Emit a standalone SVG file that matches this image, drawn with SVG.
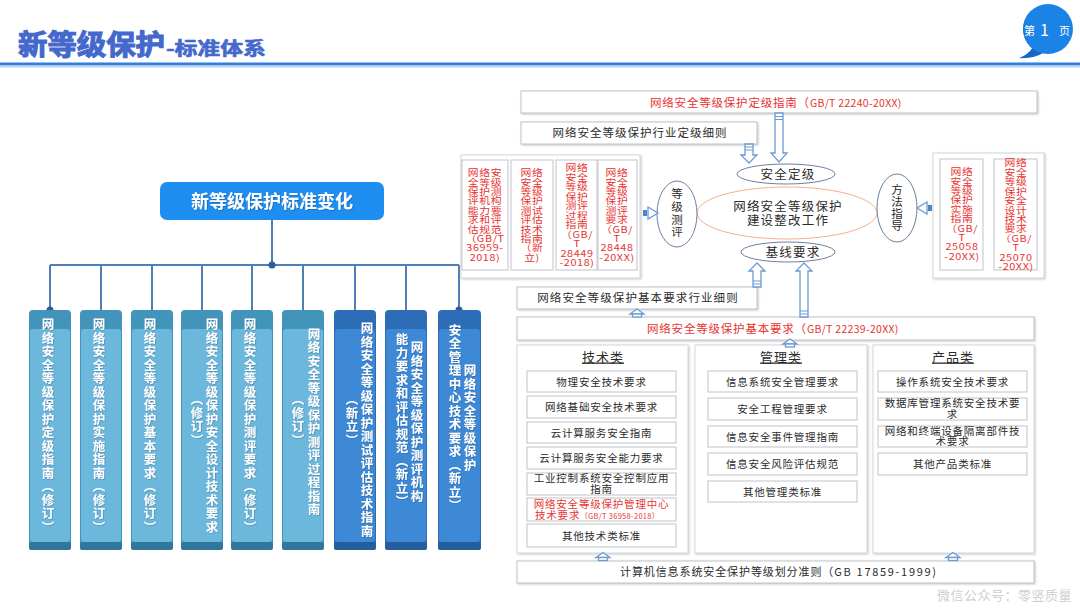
<svg xmlns="http://www.w3.org/2000/svg" width="1080" height="608" viewBox="0 0 1080 608">
<defs>
<style>
text{font-family:"Noto Sans CJK SC","Noto Sans",sans-serif}
.it{font-size:10.5px;letter-spacing:0.8px;fill:#2b2b2b;text-anchor:middle}
.rs{font-size:9.2px;letter-spacing:0.5px;fill:#e8332f;text-anchor:middle}
.hd{font-size:13px;letter-spacing:1px;fill:#2b2b2b;text-anchor:middle;text-decoration:underline}
.box{fill:#fff;stroke:#bfc3c9;stroke-width:1}
.panel{fill:#fff;stroke:#d3d7dd;stroke-width:1}
.arr{fill:#fff;stroke:#6b9bd2;stroke-width:1.3}
.stripe{stroke:#6b9bd2;stroke-width:1.2}
.ell{fill:#fff;stroke:#5d6f98;stroke-width:0.9}
.et{font-size:12.5px;letter-spacing:1.2px;fill:#2b2b2b;text-anchor:middle}
.ev{font-size:11.5px;fill:#2b2b2b;text-anchor:middle}
.vt{writing-mode:vertical-rl;font-size:12.5px;letter-spacing:1px;font-weight:bold;fill:#fff;text-anchor:middle}
.conn{stroke:#4f7fb5;stroke-width:2;fill:none}
.hL{fill:#4294bb}.bL{fill:#6cb8dc}.sL{fill:#31779c}
.hD{fill:#2c6db6}.bD{fill:#3d89d5}.sD{fill:#245e9c}
</style>
<filter id="sh" x="-10%" y="-10%" width="120%" height="120%">
<feDropShadow dx="1" dy="1" stdDeviation="0.8" flood-color="#888" flood-opacity="0.45"/>
</filter>
<filter id="tsh" x="-10%" y="-20%" width="120%" height="140%">
<feDropShadow dx="0.8" dy="0.8" stdDeviation="0.6" flood-color="#0b4f96" flood-opacity="0.6"/>
</filter>
<filter id="vsh" x="-30%" y="-5%" width="160%" height="110%">
<feDropShadow dx="0.6" dy="0.6" stdDeviation="0.5" flood-color="#1d4d78" flood-opacity="0.5"/>
</filter>
<g id="up">
<path class="arr" d="M-7,1 L0,-4 L7,1 Z"/>
<rect class="arr" x="-4.5" y="1" width="9" height="3"/>
</g>
</defs>
<rect width="1080" height="608" fill="#fff"/>

<!-- header -->
<g id="title">
<text x="18" y="55" font-size="28" font-weight="bold" fill="#4468cc" stroke="#4468cc" stroke-width="1.1" textLength="147" lengthAdjust="spacingAndGlyphs">新等级保护</text>
<text x="166" y="55" font-size="18" font-weight="bold" fill="#4468cc" stroke="#4468cc" stroke-width="0.6" textLength="100" lengthAdjust="spacingAndGlyphs">-标准体系</text>
<rect x="0" y="62.5" width="1080" height="3" fill="#2f7fdc"/>
<rect x="0" y="65.5" width="1080" height="2" fill="#b5d4f4"/>
</g>
<g id="page">
<path d="M1033,47 Q1028,55 1019,58 Q1034,59 1043,53 Z" fill="#1668c4"/>
<circle cx="1048" cy="29" r="25" fill="#1b82e6"/>
<path d="M1030,12 A25,25 0 0 0 1034,50 A27,27 0 0 1 1030,12 Z" fill="#0f66c2" opacity="0.6"/>
<text x="1024" y="35" font-size="11" fill="#fff">第</text>
<text x="1040" y="36" font-size="16" fill="#fff">1</text>
<text x="1059" y="35" font-size="11" fill="#fff">页</text>
</g>

<!-- left tree -->
<g id="connectors-tree">
<path class="conn" d="M272,220 V265 M50,265 H459 M50,265 V310 M101,265 V310 M152,265 V310 M202,265 V310 M252,265 V310 M303,265 V310 M355,265 V310 M406,265 V310 M459,265 V310"/>
<circle cx="272" cy="265" r="3.5" fill="#2d5f96"/>
<circle cx="50" cy="310" r="3.5" fill="#2d5f96"/>
<circle cx="459" cy="310" r="3.5" fill="#2d5f96"/>
</g>
<g id="root">
<rect x="160" y="182" width="224" height="38" rx="7" fill="#1e8ff0"/>
<text x="272" y="207.5" font-size="18" font-weight="bold" fill="#fff" text-anchor="middle" filter="url(#tsh)">新等级保护标准变化</text>
</g>

<g id="c1"><rect class="hL" x="29" y="310" width="42" height="240" rx="4"/><rect class="bL" x="30" y="329" width="40" height="213" rx="3"/><rect class="sL" x="29" y="542" width="42" height="8" rx="2"/>
<text class="vt" filter="url(#vsh)" x="48" y="426">网络安全等级保护定级指南（修订）</text></g>
<g id="c2"><rect class="hL" x="80" y="310" width="42" height="240" rx="4"/><rect class="bL" x="81" y="329" width="40" height="213" rx="3"/><rect class="sL" x="80" y="542" width="42" height="8" rx="2"/>
<text class="vt" filter="url(#vsh)" x="99" y="426">网络安全等级保护实施指南（修订）</text></g>
<g id="c3"><rect class="hL" x="131" y="310" width="42" height="240" rx="4"/><rect class="bL" x="132" y="329" width="40" height="213" rx="3"/><rect class="sL" x="131" y="542" width="42" height="8" rx="2"/>
<text class="vt" filter="url(#vsh)" x="150" y="426">网络安全等级保护基本要求（修订）</text></g>
<g id="c4"><rect class="hL" x="181" y="310" width="42" height="240" rx="4"/><rect class="bL" x="182" y="329" width="40" height="213" rx="3"/><rect class="sL" x="181" y="542" width="42" height="8" rx="2"/>
<text class="vt" filter="url(#vsh)" x="212" y="426">网络安全等级保护安全设计技术要求</text>
<text class="vt" filter="url(#vsh)" x="197" y="420">（修订）</text></g>
<g id="c5"><rect class="hL" x="231" y="310" width="42" height="240" rx="4"/><rect class="bL" x="232" y="329" width="40" height="213" rx="3"/><rect class="sL" x="231" y="542" width="42" height="8" rx="2"/>
<text class="vt" filter="url(#vsh)" x="250" y="426">网络安全等级保护测评要求（修订）</text></g>
<g id="c6"><rect class="hL" x="282" y="310" width="42" height="240" rx="4"/><rect class="bL" x="283" y="329" width="40" height="213" rx="3"/><rect class="sL" x="282" y="542" width="42" height="8" rx="2"/>
<text class="vt" filter="url(#vsh)" x="314" y="422">网络安全等级保护测评过程指南</text>
<text class="vt" filter="url(#vsh)" x="298" y="420">（修订）</text></g>
<g id="c7"><rect class="hD" x="334" y="310" width="42" height="240" rx="4"/><rect class="bD" x="335" y="329" width="40" height="213" rx="3"/><rect class="sD" x="334" y="542" width="42" height="8" rx="2"/>
<text class="vt" filter="url(#vsh)" x="367" y="430">网络安全等级保护测试评估技术指南</text>
<text class="vt" filter="url(#vsh)" x="352" y="420">（新立）</text></g>
<g id="c8"><rect class="hD" x="385" y="310" width="42" height="240" rx="4"/><rect class="bD" x="386" y="329" width="40" height="213" rx="3"/><rect class="sD" x="385" y="542" width="42" height="8" rx="2"/>
<text class="vt" filter="url(#vsh)" x="417" y="422">网络安全等级保护测评机构</text>
<text class="vt" filter="url(#vsh)" x="402" y="421">能力要求和评估规范（新立）</text></g>
<g id="c9"><rect class="hD" x="438" y="310" width="43" height="240" rx="4"/><rect class="bD" x="439" y="329" width="41" height="213" rx="3"/><rect class="sD" x="438" y="542" width="43" height="8" rx="2"/>
<text class="vt" filter="url(#vsh)" x="470" y="418">网络安全等级保护</text>
<text class="vt" filter="url(#vsh)" x="455" y="418">安全管理中心技术要求（新立）</text></g>

<!-- right side -->
<g id="n-dingji-zhinan">
<rect class="box" x="521" y="91" width="516" height="22" filter="url(#sh)"/>
<text x="650" y="107" font-size="11.5" letter-spacing="0.8" fill="#e8332f">网络安全等级保护定级指南（<tspan font-size="10.5" letter-spacing="0.3">GB/T 22240-20XX)</tspan></text>
</g>
<g id="n-hangye-dingji">
<rect class="box" x="521" y="122" width="236" height="22" filter="url(#sh)"/>
<text class="it" x="640" y="137" style="font-size:11.5px;letter-spacing:1px">网络安全等级保护行业定级细则</text>
</g>

<g id="n-ceping-group">
<rect class="panel" x="461" y="155" width="179" height="123" filter="url(#sh)"/>
<rect class="box" x="462" y="160" width="46" height="110"/>
<rect class="box" x="511" y="160" width="42" height="110"/>
<rect class="box" x="556" y="160" width="41" height="110"/>
<rect class="box" x="598" y="160" width="39" height="110"/>
<text class="rs" transform="translate(485,0) scale(1.18,1) translate(-485,0)"><tspan x="485" y="176.3">网络安</tspan><tspan x="485" dy="9.4">全等级</tspan><tspan x="485" dy="9.4">保护测</tspan><tspan x="485" dy="9.4">评机构</tspan><tspan x="485" dy="9.4">能力要</tspan><tspan x="485" dy="9.4">求和评</tspan><tspan x="485" dy="9.4">估规范</tspan><tspan x="485" dy="9.4">（GB/T</tspan><tspan x="485" dy="9.4">36959-</tspan><tspan x="485" dy="9.4">2018)</tspan></text>
<text class="rs" transform="translate(532,0) scale(1.18,1) translate(-532,0)"><tspan x="532" y="176.3">网络</tspan><tspan x="532" dy="9.4">安全</tspan><tspan x="532" dy="9.4">等级</tspan><tspan x="532" dy="9.4">保护</tspan><tspan x="532" dy="9.4">测试</tspan><tspan x="532" dy="9.4">评估</tspan><tspan x="532" dy="9.4">技术</tspan><tspan x="532" dy="9.4">指南</tspan><tspan x="532" dy="9.4">（新</tspan><tspan x="532" dy="9.4">立)</tspan></text>
<text class="rs" transform="translate(577,0) scale(1.18,1) translate(-577,0)"><tspan x="577" y="171.3">网络</tspan><tspan x="577" dy="9.5">安全</tspan><tspan x="577" dy="9.5">等级</tspan><tspan x="577" dy="9.5">保护</tspan><tspan x="577" dy="9.5">测评</tspan><tspan x="577" dy="9.5">过程</tspan><tspan x="577" dy="9.5">指南</tspan><tspan x="577" dy="9.5">（GB/</tspan><tspan x="577" dy="9.5">T</tspan><tspan x="577" dy="9.5">28449</tspan><tspan x="577" dy="9.5">-2018)</tspan></text>
<text class="rs" transform="translate(617,0) scale(1.18,1) translate(-617,0)"><tspan x="617" y="176.3">网络</tspan><tspan x="617" dy="9.4">安全</tspan><tspan x="617" dy="9.4">等级</tspan><tspan x="617" dy="9.4">保护</tspan><tspan x="617" dy="9.4">测评</tspan><tspan x="617" dy="9.4">要求</tspan><tspan x="617" dy="9.4">（GB/</tspan><tspan x="617" dy="9.4">T</tspan><tspan x="617" dy="9.4">28448</tspan><tspan x="617" dy="9.4">-20XX)</tspan></text>
</g>

<g id="n-fangfa-group">
<rect class="panel" x="933" y="153" width="111" height="125" filter="url(#sh)"/>
<rect class="box" x="940" y="159" width="43" height="111"/>
<rect class="box" x="994" y="159" width="43" height="111"/>
<text class="rs" transform="translate(962,0) scale(1.18,1) translate(-962,0)"><tspan x="962" y="175.3">网络</tspan><tspan x="962" dy="9.4">安全</tspan><tspan x="962" dy="9.4">等级</tspan><tspan x="962" dy="9.4">保护</tspan><tspan x="962" dy="9.4">实施</tspan><tspan x="962" dy="9.4">指南</tspan><tspan x="962" dy="9.4">（GB/</tspan><tspan x="962" dy="9.4">T</tspan><tspan x="962" dy="9.4">25058</tspan><tspan x="962" dy="9.4">-20XX)</tspan></text>
<text class="rs" transform="translate(1016,0) scale(1.18,1) translate(-1016,0)"><tspan x="1016" y="166.3">网络</tspan><tspan x="1016" dy="9.45">安全</tspan><tspan x="1016" dy="9.45">等级</tspan><tspan x="1016" dy="9.45">保护</tspan><tspan x="1016" dy="9.45">安全</tspan><tspan x="1016" dy="9.45">设计</tspan><tspan x="1016" dy="9.45">技术</tspan><tspan x="1016" dy="9.45">要求</tspan><tspan x="1016" dy="9.45">（GB/</tspan><tspan x="1016" dy="9.45">T</tspan><tspan x="1016" dy="9.45">25070</tspan><tspan x="1016" dy="9.45">-20XX)</tspan></text>
</g>

<g id="n-center">
<ellipse cx="787" cy="213" rx="90" ry="26" fill="#fff" stroke="#f0a878" stroke-width="0.9"/>
<text class="et"><tspan x="788" y="211">网络安全等级保护</tspan><tspan x="788" y="224.5">建设整改工作</tspan></text>
</g>
<g id="n-anquan-dingji">
<ellipse class="ell" cx="786" cy="174" rx="49" ry="10"/>
<text class="et" x="788" y="178.5">安全定级</text>
</g>
<g id="n-jixian">
<ellipse class="ell" cx="788" cy="252" rx="47" ry="10"/>
<text class="et" x="793" y="256.5">基线要求</text>
</g>
<g id="n-dengji-ceping">
<ellipse class="ell" cx="677" cy="214" rx="20" ry="33"/>
<text class="ev"><tspan x="677" y="197.5">等</tspan><tspan x="677" y="210.5">级</tspan><tspan x="677" y="223.5">测</tspan><tspan x="677" y="236">评</tspan></text>
</g>
<g id="n-fangfa">
<ellipse class="ell" cx="897" cy="208" rx="20" ry="34"/>
<text class="ev"><tspan x="897" y="194">方</tspan><tspan x="897" y="206">法</tspan><tspan x="897" y="218">指</tspan><tspan x="897" y="230">导</tspan></text>
</g>

<g id="n-jiben-hangye">
<rect class="box" x="517" y="287" width="240" height="22" filter="url(#sh)"/>
<text class="it" x="638" y="302" style="font-size:11.5px;letter-spacing:1.1px">网络安全等级保护基本要求行业细则</text>
</g>
<g id="n-jiben">
<rect class="box" x="517" y="317" width="517" height="23" filter="url(#sh)"/>
<text x="647" y="333" font-size="11.5" letter-spacing="0.8" fill="#e8332f">网络安全等级保护基本要求（<tspan font-size="10.5" letter-spacing="0.3">GB/T 22239-20XX)</tspan></text>
</g>

<g id="n-jishu">
<rect class="panel" x="517" y="345" width="171" height="208" filter="url(#sh)"/>
<text class="hd" x="603" y="361.5">技术类</text>
<rect class="box" x="527" y="371" width="149" height="21"/><text class="it" x="601.5" y="385.5">物理安全技术要求</text>
<rect class="box" x="527" y="396" width="149" height="22"/><text class="it" x="601.5" y="411">网络基础安全技术要求</text>
<rect class="box" x="527" y="422" width="149" height="21"/><text class="it" x="601.5" y="436.5">云计算服务安全指南</text>
<rect class="box" x="527" y="447" width="149" height="22"/><text class="it" x="601.5" y="462">云计算服务安全能力要求</text>
<rect class="box" x="527" y="473" width="149" height="22"/><text class="it"><tspan x="601.5" y="482">工业控制系统安全控制应用</tspan><tspan x="601.5" y="493">指南</tspan></text>
<rect class="box" x="527" y="498" width="149" height="23"/>
<text class="it" style="fill:#e8332f"><tspan x="601.5" y="508">网络安全等级保护管理中心</tspan><tspan x="535" y="518.5" text-anchor="start">技术要求<tspan font-size="7.5" letter-spacing="0.3">（GB/T 36958-2018）</tspan></tspan></text>
<rect class="box" x="527" y="524" width="149" height="23"/><text class="it" x="601.5" y="540">其他技术类标准</text>
</g>
<g id="n-guanli">
<rect class="panel" x="695" y="345" width="172" height="208" filter="url(#sh)"/>
<text class="hd" x="781" y="361.5">管理类</text>
<rect class="box" x="708" y="371" width="149" height="21"/><text class="it" x="782.5" y="385.5">信息系统安全管理要求</text>
<rect class="box" x="708" y="398" width="149" height="22"/><text class="it" x="782.5" y="413">安全工程管理要求</text>
<rect class="box" x="708" y="426" width="149" height="21"/><text class="it" x="782.5" y="440.5">信息安全事件管理指南</text>
<rect class="box" x="708" y="453" width="149" height="22"/><text class="it" x="782.5" y="468">信息安全风险评估规范</text>
<rect class="box" x="708" y="481" width="149" height="21"/><text class="it" x="782.5" y="495.5">其他管理类标准</text>
</g>
<g id="n-chanpin">
<rect class="panel" x="873" y="345" width="161" height="208" filter="url(#sh)"/>
<text class="hd" x="953" y="361.5">产品类</text>
<rect class="box" x="878" y="371" width="149" height="21"/><text class="it" x="952.5" y="385.5">操作系统安全技术要求</text>
<rect class="box" x="878" y="398" width="149" height="22"/><text class="it"><tspan x="952.5" y="407">数据库管理系统安全技术要</tspan><tspan x="952.5" y="417.5">求</tspan></text>
<rect class="box" x="878" y="426" width="149" height="21"/><text class="it"><tspan x="952.5" y="435">网络和终端设备隔离部件技</tspan><tspan x="952.5" y="445">术要求</tspan></text>
<rect class="box" x="878" y="453" width="149" height="22"/><text class="it" x="952.5" y="468">其他产品类标准</text>
</g>
<g id="n-17859">
<rect class="box" x="517" y="561" width="517" height="22" filter="url(#sh)"/>
<text x="620" y="576" font-size="11" letter-spacing="0.9" fill="#2b2b2b">计算机信息系统安全保护等级划分准则（<tspan letter-spacing="1.7">GB 17859-1999)</tspan></text>
</g>

<g id="connectors-right">
<path class="arr" d="M775,113 H783 V153 H787 L779,162 L771,153 H775 Z"/>
<path class="stripe" d="M775,116.5 H783 M775,119.5 H783"/>
<path class="arr" d="M745,144 H753 V155 H757 L749,163 L741,155 H745 Z"/>
<path class="stripe" d="M745,147 H753 M745,150 H753"/>
<path class="arr" d="M753,287 H761 V271 H765 L757,263 L749,271 H753 Z"/>
<path class="stripe" d="M753,284 H761 M753,281 H761"/>
<path class="arr" d="M800,317 H808 V271 H812 L804,263 L796,271 H800 Z"/>
<path class="stripe" d="M800,314 H808 M800,311 H808"/>
<rect x="643" y="210" width="4" height="6" fill="#4a86cc"/>
<path class="arr" d="M648,207 L658,213 L648,219 Z"/>
<rect x="928" y="205" width="4" height="6" fill="#4a86cc"/>
<path class="arr" d="M927,202 L917,208 L927,214 Z"/>
<use href="#up" x="637" y="313"/>
<use href="#up" x="790" y="343"/>
<use href="#up" x="603" y="556.5"/>
<use href="#up" x="953" y="556.5"/>
</g>

<text x="937" y="600" font-size="13" letter-spacing="0.5" fill="#cfcfcf">微信公众号：零竖质量</text>
</svg>
